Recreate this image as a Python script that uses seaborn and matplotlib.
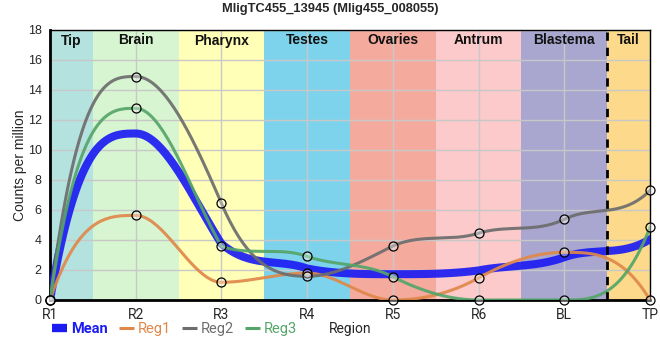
import numpy as np
import pandas as pd
import matplotlib
matplotlib.use("Agg")
import matplotlib.pyplot as plt
from matplotlib.lines import Line2D
import seaborn as sns

# values
regions = ["R1", "R2", "R3", "R4", "R5", "R6", "BL", "TP"]
mean_cpm = [0, 11.1, 3.75, 2.1, 1.72, 1.97, 2.85, 4.05]
reg1_cpm = [0, 5.64, 1.18, 1.8, 0, 1.47, 3.18, 0]
reg2_cpm = [0, 14.9, 6.44, 1.58, 3.6, 4.45, 5.38, 7.31]
reg3_cpm = [0, 12.78, 3.58, 2.91, 1.55, 0, 0, 4.84]

tissues = ["Tip", "Brain", "Pharynx", "Testes", "Ovaries", "Antrum", "Blastema", "Tail"]
tissue_colors = ["#b4e2de", "#d6f5d0", "#ffffb8", "#7dd3eb",
                 "#f4ab9e", "#fccaca", "#a9a7cf", "#fdda8b"]

series_names = ["Mean", "Reg1", "Reg2", "Reg3"]
series_vals = [mean_cpm, reg1_cpm, reg2_cpm, reg3_cpm]
series_colors = ["#1c1cf2", "#e0884a", "#6d6d6d", "#55a56a"]
series_widths = [5.8, 2.2, 2.2, 2.2]


def smooth(y, n=40):
    # clamped bezier spline, flat at local extremes
    y = np.asarray(y, float)
    d = np.diff(y)
    m = np.zeros(len(y))
    for i in range(1, len(y) - 1):
        if d[i - 1] * d[i] > 0:
            m[i] = d[i - 1] + d[i]
    xs, ys = [], []
    t = np.linspace(0, 1, n, endpoint=False)
    for i in range(len(d)):
        y0, y1 = y[i], y[i + 1]
        lo, hi = min(y0, y1), max(y0, y1)
        c0 = y1 if i == 0 else np.clip(y0 + m[i] / 3, lo, hi)
        c1 = y0 if i == len(d) - 1 else np.clip(y1 - m[i + 1] / 3, lo, hi)
        yy = (1 - t)**3 * y0 + 3 * (1 - t)**2 * t * c0 + 3 * (1 - t) * t**2 * c1 + t**3 * y1
        xs.extend(i + t)
        ys.extend(yy)
    xs.append(len(y) - 1)
    ys.append(y[-1])
    return np.array(xs), np.array(ys)


sns.set_style("white")
plt.rcParams['font.family'] = ['Liberation Sans', 'DejaVu Sans']

fig = plt.figure(figsize=(6.6, 3.6), dpi=100)
ax = fig.add_axes([50 / 660, 60 / 360, 600 / 660, 270 / 360])

# tissue bands
for k, (name, col) in enumerate(zip(tissues, tissue_colors)):
    ax.axvspan(k - 0.5, k + 0.5, color=col, lw=0, zorder=0.1)
    xc = (max(k - 0.5, 0) + min(k + 0.5, 7)) / 2
    ax.text(xc, 17.3, name, ha="center", va="center", fontsize=10,
            fontweight="bold", color="#111111", zorder=5)

ax.axvline(6.5, color="black", lw=2, ls=(0, (3, 2.5)), zorder=4)

xi = np.arange(len(regions))
handles = []
for name, vals, col, lw in zip(series_names, series_vals, series_colors, series_widths):
    sx, sy = smooth(vals)
    df = pd.DataFrame({"x": sx, "cpm": sy})
    sns.lineplot(data=df, x="x", y="cpm", ax=ax, color=col, linewidth=lw,
                 estimator=None, sort=False, alpha=0.92, zorder=3)
    handles.append(Line2D([], [], color=col, lw=(6 if name == "Mean" else 2.2),
                          solid_capstyle="butt", label=name))

for vals in series_vals[1:]:
    pts = pd.DataFrame({"x": xi, "cpm": vals})
    sns.scatterplot(data=pts, x="x", y="cpm", ax=ax, s=42, marker="o",
                    facecolor=(1, 1, 1, 0.35), edgecolor="black", linewidth=0.9,
                    zorder=6, clip_on=False)

ax.set_xlim(0, 7)
ax.set_ylim(0, 18)
ax.set_xticks(xi)
ax.set_xticklabels(regions, fontsize=10, family=["Roboto", "DejaVu Sans"])
ax.set_yticks(np.arange(0, 19, 2))
ax.tick_params(axis="y", labelsize=9, length=4, width=1, color="black", pad=2)
ax.tick_params(axis="x", length=4, width=1, color="black", pad=2)
ax.grid(True, color="#c8c8c8", lw=1)
ax.set_axisbelow(True)

for side in ["left", "bottom"]:
    ax.spines[side].set_linewidth(2)
    ax.spines[side].set_color("black")
for side in ["top", "right"]:
    ax.spines[side].set_linewidth(1)
    ax.spines[side].set_color("black")

ax.set_ylabel("Counts per million", fontsize=10)
ax.yaxis.set_label_coords(-0.038, 0.5)
ax.set_xlabel("Region", fontsize=10, family=["Roboto", "DejaVu Sans"], va="center")
ax.xaxis.set_label_coords(0.5, -0.108)

leg = ax.legend(handles=handles, loc="center left", bbox_to_anchor=(-0.018, -0.108),
                ncol=4, frameon=False, handlelength=1.0, handletextpad=0.3,
                columnspacing=0.75, prop={"family": ["Roboto", "DejaVu Sans"], "size": 10.5})
for txt, col in zip(leg.get_texts(), series_colors):
    txt.set_color(col)
leg.get_texts()[0].set_fontweight("bold")

fig.text(0.5, 0.975, "MligTC455_13945 (Mlig455_008055)", ha="center", va="center",
         fontsize=9.3, fontweight="bold")

fig.savefig("out.png", dpi=100)
